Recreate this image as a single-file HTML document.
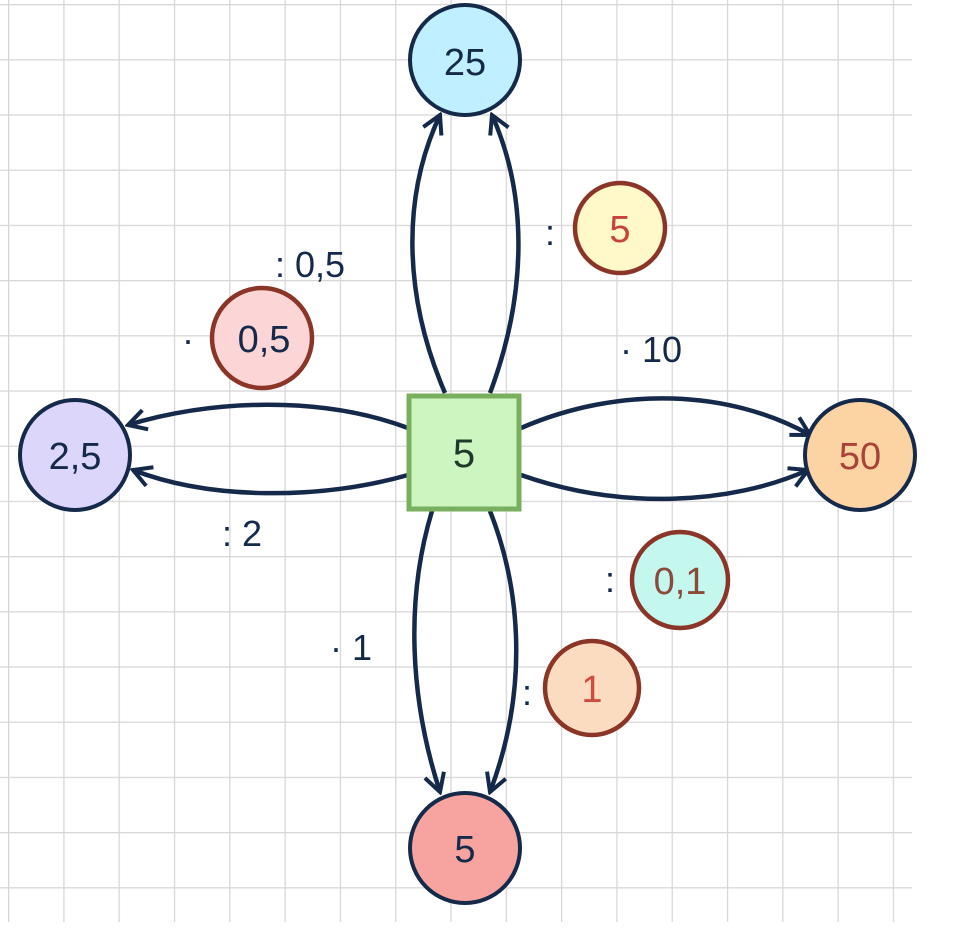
<!DOCTYPE html>
<html><head><meta charset="utf-8"><style>
html,body{margin:0;padding:0;background:#fff;}
svg{display:block;}
text{font-family:"Liberation Sans","DejaVu Sans",sans-serif;}
</style></head><body>
<svg width="965" height="930" viewBox="0 0 965 930" xmlns="http://www.w3.org/2000/svg">
<defs>
<pattern id="g" x="8" y="4" width="55.3" height="55.2" patternUnits="userSpaceOnUse">
<path d="M0 0V55.2M0 0H55.3" stroke="#d6d6d6" stroke-width="2.5" fill="none"/>
</pattern>
<marker id="a" viewBox="0 0 24 24" refX="21" refY="12" markerWidth="24" markerHeight="24" markerUnits="userSpaceOnUse" orient="auto">
<path d="M3 2 L21 12 L3 22" fill="none" stroke="#15294a" stroke-width="4"/>
</marker>
</defs>
<rect x="0" y="0" width="912" height="922" fill="url(#g)"/>
<g fill="none" stroke="#15294a" stroke-width="4.5" marker-end="url(#a)">
<path d="M445 393 C405 300 400 200 440 115"/>
<path d="M490 393 C525 300 530 200 492 115"/>
<path d="M408 428 C320 395 210 400 128 425"/>
<path d="M408 475 C320 500 210 500 133 470"/>
<path d="M521 428 C620 385 730 390 810 435"/>
<path d="M521 475 C620 510 730 505 808 470"/>
<path d="M432 511 C405 600 410 700 440 792"/>
<path d="M490 511 C525 600 525 700 490 792"/>
</g>
<rect x="409" y="396" width="110" height="113" fill="#ccf5c0" stroke="#7aaf60" stroke-width="5"/>
<text x="464" y="467" font-size="40" fill="#1f3a2a" text-anchor="middle">5</text>
<g stroke="#15294a" stroke-width="4">
<circle cx="465" cy="60" r="55" fill="#c0f0ff"/>
<circle cx="75" cy="455" r="55" fill="#ddd6fb"/>
<circle cx="860" cy="455" r="55" fill="#fcd4a4"/>
<circle cx="465" cy="848" r="55" fill="#f7a4a0"/>
</g>
<g stroke="#8b3428" stroke-width="4.5">
<circle cx="620" cy="228" r="45" fill="#fff8c8"/>
<circle cx="262" cy="338" r="50" fill="#fcd6d6"/>
<circle cx="680" cy="580" r="48" fill="#c4f7ee"/>
<circle cx="592" cy="688" r="47" fill="#fcdcc0"/>
</g>
<g font-size="38" text-anchor="middle">
<text x="465" y="75" fill="#15294a">25</text>
<text x="75" y="469" fill="#15294a">2,5</text>
<text x="860" y="469" fill="#a8433a">50</text>
<text x="465" y="862" fill="#15294a">5</text>
<text x="620" y="242" fill="#c8443a">5</text>
<text x="264" y="352" fill="#15294a">0,5</text>
<text x="680" y="594" fill="#8b4a3a">0,1</text>
<text x="592" y="702" fill="#d04a40">1</text>
</g>
<g font-size="36" fill="#15294a">
<text x="275" y="277">: 0,5</text>
<text x="182" y="352">·</text>
<text x="545" y="245">:</text>
<text x="620" y="362">· 10</text>
<text x="222" y="546">: 2</text>
<text x="605" y="592">:</text>
<text x="330" y="660">· 1</text>
<text x="522" y="705">:</text>
</g>
</svg>
</body></html>
